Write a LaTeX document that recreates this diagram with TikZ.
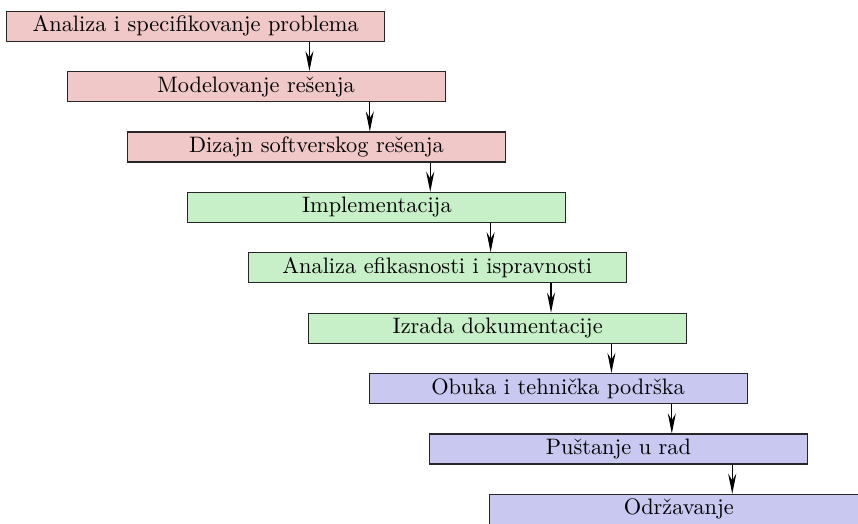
\documentclass[tikz,border=0pt]{standalone}
\usetikzlibrary{arrows.meta,calc}
\definecolor{pinkbox}{RGB}{240,200,200}
\definecolor{greenbox}{RGB}{200,240,200}
\definecolor{bluebox}{RGB}{200,200,240}
\begin{document}
\begin{tikzpicture}[x=0.4474pt,y=-0.4474pt,
  stage/.style={draw=black!85, line width=0.5pt, minimum width=169.1pt,
    minimum height=13.4pt, inner sep=0pt, font=\fontsize{10}{12}\selectfont},
  pinkstage/.style={stage, fill=pinkbox},
  greenstage/.style={stage, fill=greenbox},
  bluestage/.style={stage, fill=bluebox},
  flow/.style={draw=black, line width=0.5pt,
    -{Stealth[length=9pt, width=3.6pt, inset=3pt]}}]
\useasboundingbox (0,0) rectangle (858,523);
\clip (0,0) rectangle (858,523);
\node[pinkstage]  (b1) at (195.7,26.2) {Analiza i specifikovanje problema};
\node[pinkstage]  (b2) at (256.1,86.6) {Modelovanje rešenja};
\node[pinkstage]  (b3) at (316.5,147.0) {Dizajn softverskog rešenja};
\node[greenstage] (b4) at (376.9,207.4) {Implementacija};
\node[greenstage] (b5) at (437.3,267.8) {Analiza efikasnosti i ispravnosti};
\node[greenstage] (b6) at (497.7,328.2) {Izrada dokumentacije};
\node[bluestage]  (b7) at (558.1,388.6) {Obuka i tehnička podrška};
\node[bluestage]  (b8) at (618.5,449.0) {Puštanje u rad};
\node[bluestage]  (b9) at (678.9,509.4) {Održavanje};
\foreach \i/\j in {1/2,2/3,3/4,4/5,5/6,6/7,7/8,8/9}{
  \coordinate (a\i) at ($(b\i.south west)!0.8!(b\i.south east)$);
  \draw[flow] (a\i) -- (a\i |- b\j.north);
}
\end{tikzpicture}
\end{document}
